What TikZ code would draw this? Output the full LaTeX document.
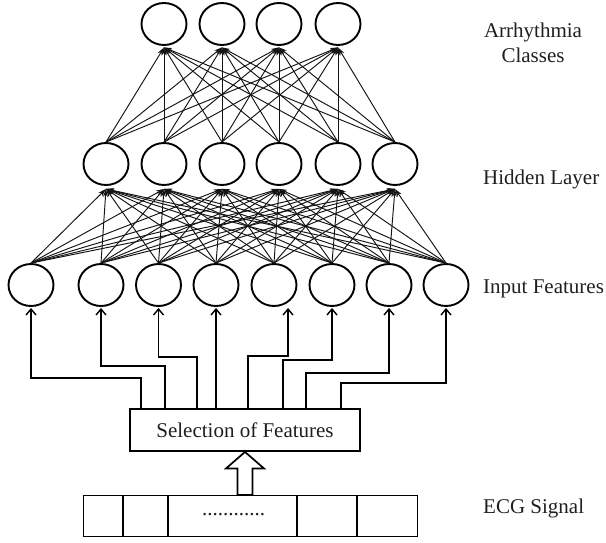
\documentclass[tikz,border=0pt]{standalone}
\usepackage{fontspec}
\setmainfont{Liberation Serif}
\usetikzlibrary{arrows.meta,shapes.geometric,calc}

\begin{document}
\begin{tikzpicture}[x=1pt,y=-1pt,
  neuron/.style={ellipse,draw,line width=1.9pt,minimum width=45pt,minimum height=42pt,inner sep=0pt},
  link/.style={line width=0.95pt,draw=black!92,-{Stealth[length=8pt,width=5pt]}},
  feed/.style={line width=1.4pt,-{Straight Barb[length=6pt,width=10pt]}},
  frame/.style={draw,line width=1.9pt,inner sep=0pt},
  lbl/.style={font=\fontsize{21}{24}\selectfont,text=black!88,inner sep=0pt},
  hollow/.style={line width=1.7pt,fill=white,line join=miter}
]
\useasboundingbox (0,0) rectangle (606,543);

% output layer
\foreach \n/\x in {1/164,2/222,3/279,4/338}
  \node[neuron] (o\n) at (\x,24) {};
% hidden layer
\foreach \n/\x in {1/106,2/164,3/222,4/279,5/338,6/395}
  \node[neuron] (h\n) at (\x,164) {};
% input layer
\foreach \n/\x in {1/31,2/101,3/158.5,4/216,5/274,6/332,7/389,8/446}
  \node[neuron] (i\n) at (\x,285) {};

% fully connected weights
\foreach \i in {1,...,8}
  \foreach \j in {1,...,6}
    \draw[link] (i\i.north) -- ([yshift=-3pt]h\j.south);
\foreach \i in {1,...,6}
  \foreach \j in {1,...,4}
    \draw[link] (h\i.north) -- ([yshift=-1.5pt]o\j.south);

% feature selection block
\node[frame,minimum width=230pt,minimum height=42pt,font=\fontsize{21}{24}\selectfont,text=black!88] (sel) at (245,430) {Selection of Features};

% routing from the selection block to each input feature
\foreach \k/\x in {1/141,2/165,3/197,4/216,5/248,6/283,7/306,8/341}
  \coordinate (t\k) at (\x,408);
\draw[feed] (t1) -- ++(0,-30) -| ([yshift=-1pt]i1.south);
\draw[feed] (t2) -- ++(0,-42) -| ([yshift=-1pt]i2.south);
\draw[feed] (t3) -- ++(0,-51) -| ([yshift=-1pt]i3.south);
\draw[feed] (t4) -- ([yshift=-1pt]i4.south);
\draw[feed] (t5) -- ++(0,-52) -| ([xshift=14pt,yshift=-1pt]i5.south);
\draw[feed] (t6) -- ++(0,-48) -| ([yshift=-1pt]i6.south);
\draw[feed] (t7) -- ++(0,-35) -| ([yshift=-1pt]i7.south);
\draw[feed] (t8) -- ++(0,-25) -| ([yshift=-1pt]i8.south);

% ECG signal strip
\node[frame,minimum width=334pt,minimum height=41pt] (ecg) at (250.5,516) {};
\foreach \d in {40,85,214,274}
  \draw[line width=1.9pt] ([xshift=\d pt]ecg.north west) -- ([xshift=\d pt]ecg.south west);
\node[lbl,anchor=base] (dots) at (233.5,515) {............};

% hollow arrow from the signal to the selection block
\coordinate (tip) at (sel.south);
\draw[hollow] (tip) -- ++(19,16.5) -- ++(-11.5,0) -- ++(0,26.5) -- ++(-15,0)
  -- ++(0,-26.5) -- ++(-11.5,0) -- cycle;

% layer captions
\node[lbl,anchor=base] (cap1) at (533,38) {Arrhythmia};
\node[lbl,anchor=base] (cap2) at (533,63) {Classes};
\node[lbl,anchor=base west] (cap3) at (483,185) {Hidden Layer};
\node[lbl,anchor=base west] (cap4) at (483,293) {Input Features};
\node[lbl,anchor=base west] (cap5) at (483,513) {ECG Signal};
\end{tikzpicture}
\end{document}
